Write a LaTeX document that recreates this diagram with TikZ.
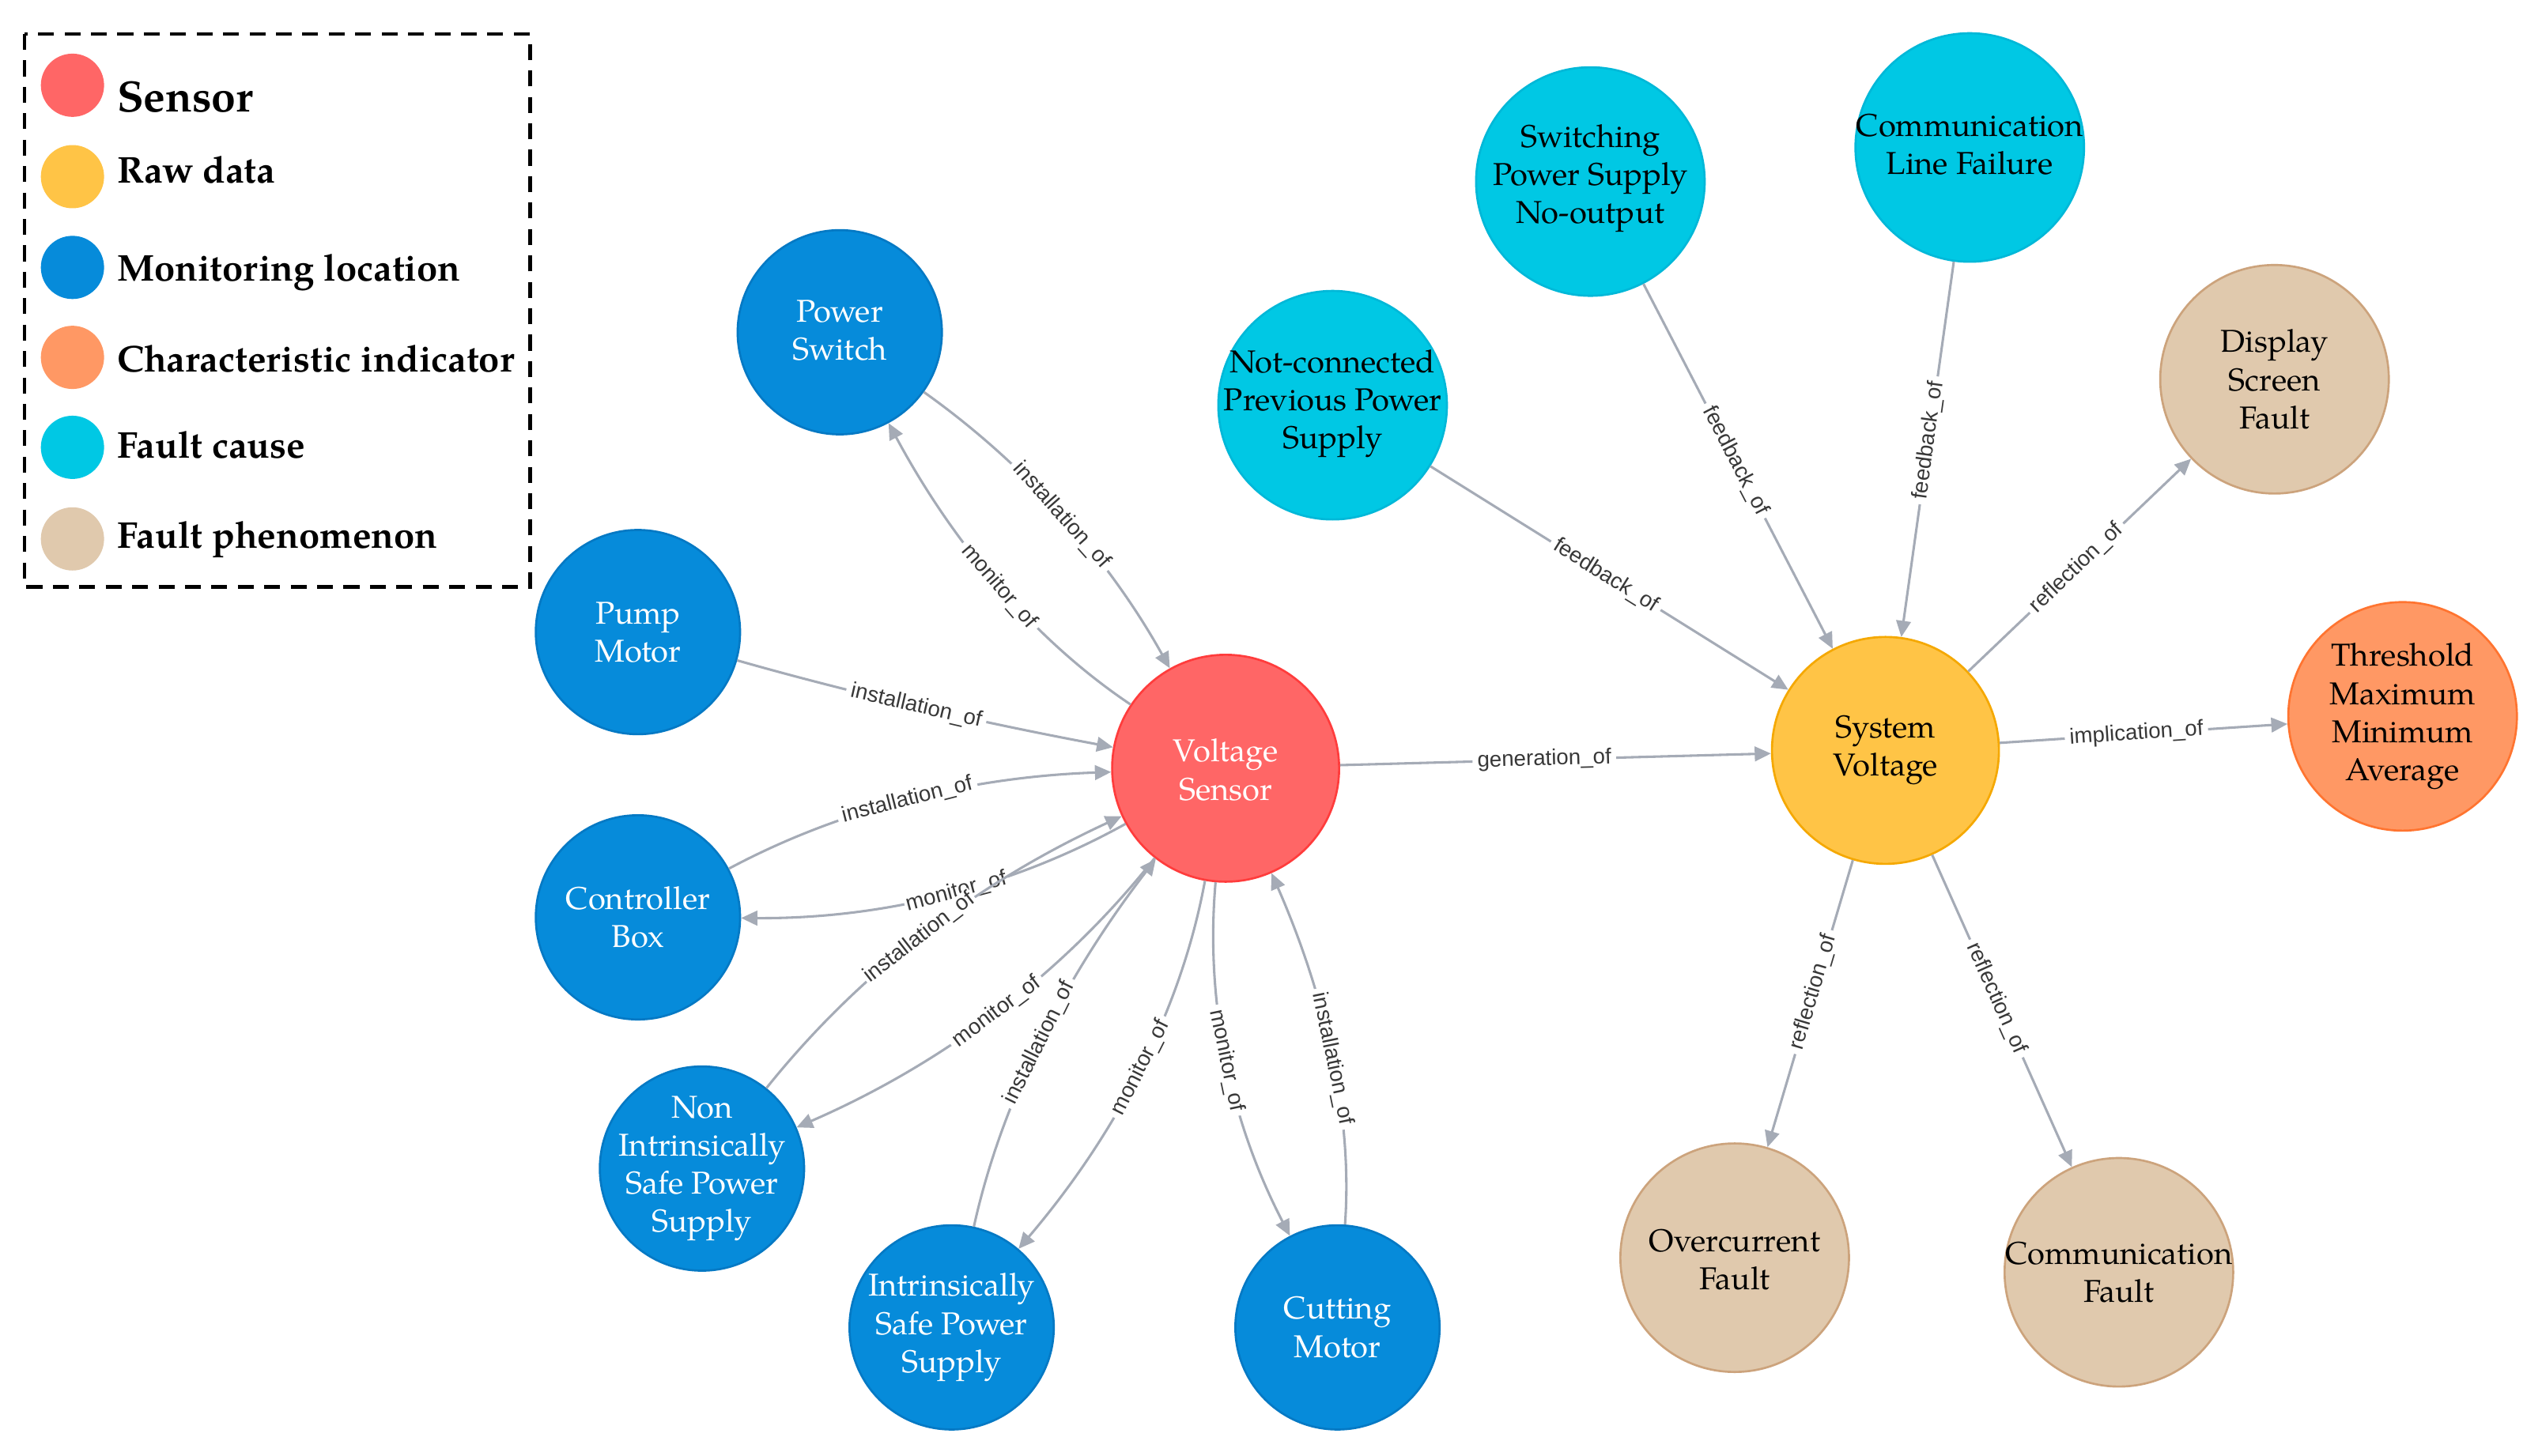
\documentclass[tikz,border=0pt]{standalone}
\usepackage{fontspec}
\newfontfamily\palfont{texgyrepagella}[Extension=.otf,UprightFont=*-regular,BoldFont=*-bold]
\newfontfamily\labfont{Liberation Sans}
\usetikzlibrary{arrows.meta}
\definecolor{cRed}{HTML}{FF6666}
\definecolor{cRedD}{HTML}{FF3C3C}
\definecolor{cYel}{HTML}{FFC446}
\definecolor{cYelD}{HTML}{F5A800}
\definecolor{cBlu}{HTML}{068BDA}
\definecolor{cBluD}{HTML}{0579C4}
\definecolor{cOra}{HTML}{FF9864}
\definecolor{cOraD}{HTML}{FF7430}
\definecolor{cCya}{HTML}{00C8E4}
\definecolor{cCyaD}{HTML}{00B8D8}
\definecolor{cTan}{HTML}{E0C9AD}
\definecolor{cTanD}{HTML}{CCA37C}
\definecolor{cEdge}{HTML}{A5ABB6}
\definecolor{cLab}{HTML}{383838}
\begin{document}
\begin{tikzpicture}[x=1pt,y=-1pt,
 nd/.style={circle, inner sep=0pt, line width=1.3pt},
 mloc/.style={nd, minimum size=126pt, fill=cBlu, draw=cBluD},
 sens/.style={nd, minimum size=140pt, fill=cRed, draw=cRedD},
 rawd/.style={nd, minimum size=140pt, fill=cYel, draw=cYelD},
 chind/.style={nd, minimum size=141pt, fill=cOra, draw=cOraD},
 fcau/.style={nd, minimum size=141pt, fill=cCya, draw=cCyaD},
 fphe/.style={nd, minimum size=141pt, fill=cTan, draw=cTanD},
 ntext/.style={font=\palfont\fontsize{19.5}{23.5}\selectfont, align=center, inner sep=0pt, text=black},
 wtext/.style={ntext, text=white},
 conn/.style={draw=cEdge, line width=1.5pt, -{Triangle[length=10pt,width=9pt]}},
 elab/.style={font=\labfont\fontsize{13.5}{15}\selectfont, text=cLab, fill=white, inner xsep=3pt, inner ysep=1pt, sloped},
 elabs/.style={elab, inner xsep=1pt, inner ysep=0pt},
 legdot/.style={circle, inner sep=0pt, minimum size=39pt},
 legtext/.style={anchor=base west, inner sep=0pt, font=\palfont\bfseries\fontsize{23}{27}\selectfont},
 legbox/.style={draw=black, line width=2.2pt, dash pattern=on 9.8pt off 6.5pt}
]
\useasboundingbox (0,0) rectangle (1568,898);
\fill[white] (0,0) rectangle (1568,898);

% legend
\draw[legbox] (15,21) rectangle (327,362);
\node[legdot, fill=cRed] (lg1) at (44.7,52.6) {};
\node[legdot, fill=cYel] (lg2) at (44.7,109) {};
\node[legdot, fill=cBlu] (lg3) at (44.7,165) {};
\node[legdot, fill=cOra] (lg4) at (44.7,220.5) {};
\node[legdot, fill=cCya] (lg5) at (44.7,276) {};
\node[legdot, fill=cTan] (lg6) at (44.7,332.5) {};
\node[legtext, font=\palfont\bfseries\fontsize{27}{30}\selectfont] (lt1) at (72,69) {Sensor};
\node[legtext] (lt2) at (72,113) {Raw data};
\node[legtext] (lt3) at (72,173.5) {Monitoring location};
\node[legtext] (lt4) at (72,229.5) {Characteristic indicator};
\node[legtext] (lt5) at (72,282.5) {Fault cause};
\node[legtext] (lt6) at (72,338) {Fault phenomenon};

% nodes
\node[mloc] (ps) at (518,205) {};
\node[mloc] (pm) at (393.5,390) {};
\node[mloc] (cb) at (393.5,566) {};
\node[mloc] (nis) at (433,721) {};
\node[mloc] (isp) at (587,819) {};
\node[mloc] (cm) at (825,819) {};
\node[sens] (vs) at (756,474) {};
\node[rawd] (sv) at (1163,463) {};
\node[fcau] (nc) at (822,250) {};
\node[fcau] (sw) at (981,112) {};
\node[fcau] (clf) at (1215,91) {};
\node[fphe] (dsf) at (1403,234) {};
\node[chind] (thr) at (1482,442) {};
\node[fphe] (oc) at (1070,776) {};
\node[fphe] (cf) at (1307,785) {};

\node[wtext] (ps-t) at (518,204) {Power\\Switch};
\node[wtext] (pm-t) at (393.5,390) {Pump\\Motor};
\node[wtext] (cb-t) at (393.5,566) {Controller\\Box};
\node[wtext] (nis-t) at (433,721) {Non\\Intrinsically\\Safe Power\\Supply};
\node[wtext] (isp-t) at (587,819) {Intrinsically\\Safe Power\\Supply};
\node[wtext] (cm-t) at (825,819) {Cutting\\Motor};
\node[wtext] (vs-t) at (756,475) {Voltage\\Sensor};
\node[ntext] (sv-t) at (1163,463) {System\\Voltage};
\node[ntext] (nc-t) at (822,249) {Not-connected\\Previous Power\\Supply};
\node[ntext] (sw-t) at (981,110) {Switching\\Power Supply\\No-output};
\node[ntext] (clf-t) at (1215,89) {Communication\\Line Failure};
\node[ntext] (dsf-t) at (1403,234) {Display\\Screen\\Fault};
\node[ntext] (thr-t) at (1482,442) {Threshold\\Maximum\\Minimum\\Average};
\node[ntext] (oc-t) at (1070,777) {Overcurrent\\Fault};
\node[ntext] (cf-t) at (1307,785) {Communication\\Fault};

% edges around the sensor
\draw[conn] (vs) .. controls (639.3,395.7) and (589,337.3) .. (ps) node[elab,pos=.5] {monitor\_of};
\draw[conn] (ps) .. controls (632.3,286.3) and (683.3,343.7) .. (vs) node[elab,pos=.5] {installation\_of};
\draw[conn] (pm) .. controls (524.3,427.3) and (602.3,445.3) .. (vs) node[elab,pos=.5] {installation\_of};
\draw[conn] (cb) .. controls (517.3,499.7) and (596.7,479.3) .. (vs) node[elab,pos=.5] {installation\_of};
\draw[conn] (vs) .. controls (624.7,547) and (545.7,567) .. (cb) node[elabs,pos=.47] {monitor\_of};
\draw[conn] (nis) .. controls (526.7,604) and (597.3,547.3) .. (vs) node[elabs,pos=.5] {installation\_of};
\draw[conn] (vs) .. controls (656.3,600.3) and (582.3,656) .. (nis) node[elab,pos=.5] {monitor\_of};
\draw[conn] (isp) .. controls (617.3,681.7) and (655,605.3) .. (vs) node[elab,pos=.5] {installation\_of};
\draw[conn] (vs) .. controls (729,621) and (690.3,697.7) .. (isp) node[elab,pos=.5] {monitor\_of};
\draw[conn] (vs) .. controls (743.3,618) and (758.7,691.3) .. (cm) node[elab,pos=.5] {monitor\_of};
\draw[conn] (cm) .. controls (834.3,691.7) and (819.3,618.7) .. (vs) node[elab,pos=.5] {installation\_of};

% edges around the system voltage
\draw[conn] (vs) -- (sv) node[elab,pos=.474] {generation\_of};
\draw[conn] (nc) -- (sv) node[elab,pos=.49] {feedback\_of};
\draw[conn] (sw) -- (sv) node[elab,pos=.485] {feedback\_of};
\draw[conn] (clf) -- (sv) node[elab,pos=.476] {feedback\_of};
\draw[conn] (sv) -- (dsf) node[elab,pos=.486] {reflection\_of};
\draw[conn] (sv) -- (thr) node[elab,pos=.475] {implication\_of};
\draw[conn] (sv) -- (oc) node[elab,pos=.46] {reflection\_of};
\draw[conn] (sv) -- (cf) node[elab,pos=.46] {reflection\_of};
\end{tikzpicture}
\end{document}
